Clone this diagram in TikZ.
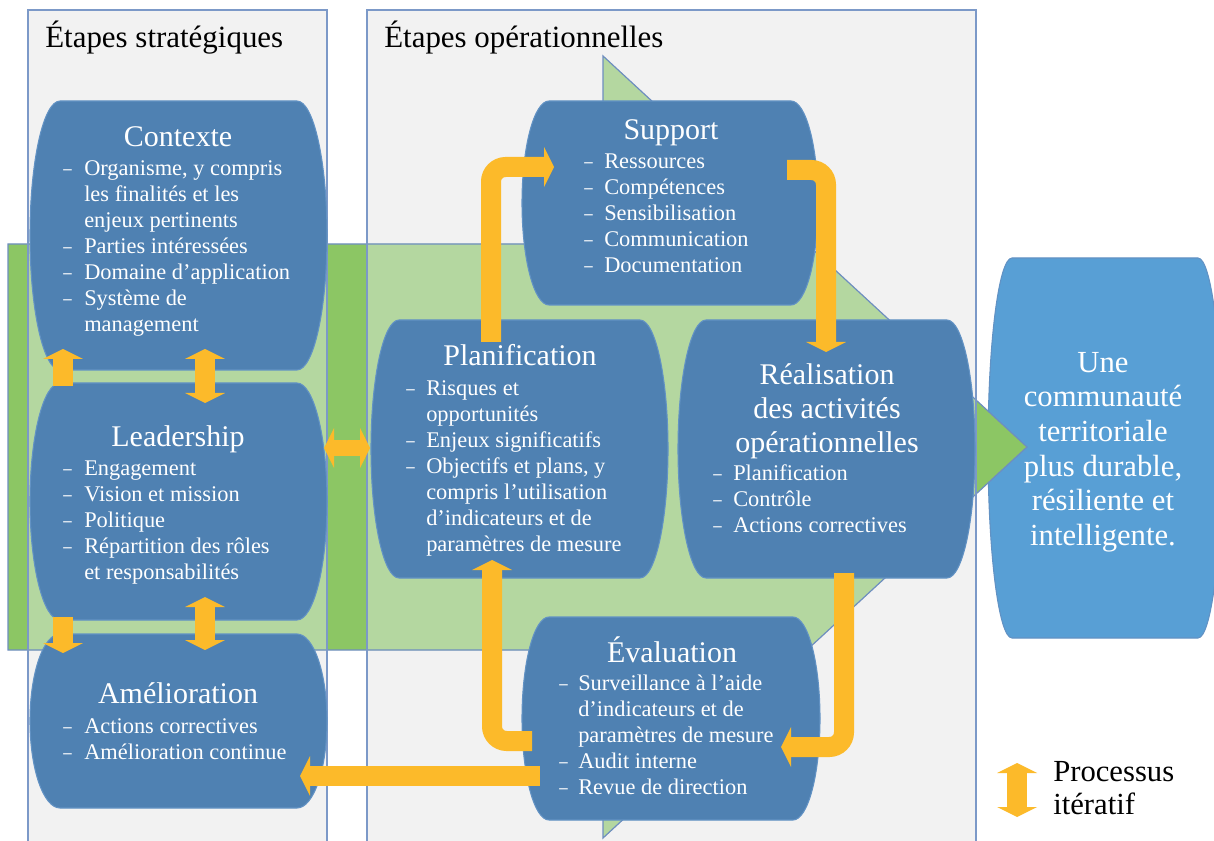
\documentclass[tikz,border=0pt]{standalone}
\usepackage{fontspec}
\setmainfont{Liberation Serif}
\definecolor{boxblue}{RGB}{79,129,178}
\definecolor{boxline}{RGB}{98,146,196}
\definecolor{ucblue}{RGB}{88,159,213}
\definecolor{panelgray}{RGB}{242,242,242}
\definecolor{panelline}{RGB}{124,153,200}
\definecolor{dgreen}{RGB}{140,198,100}
\definecolor{lgreen}{RGB}{180,215,160}
\definecolor{gline}{RGB}{110,142,192}
\definecolor{orangeC}{RGB}{252,186,42}
\newlength\bind
\newcommand\bi[1]{\strut\makebox[\bind][l]{\scalebox{0.75}[1]{–}}#1}
\newcommand\bc[1]{\strut\hspace*{\bind}#1}
\newcommand\bodyfont{\fontsize{16.8}{19.5}\selectfont}
\newcommand\titlefont{\fontsize{22.5}{27}\selectfont}
\newcommand\paneltitlefont{\fontsize{23.2}{27}\selectfont}
\newcommand\barrel[5]{({#1+#5},#2) -- ({#3-#5},#2) .. controls ({#3-0.4477*#5},#2) and (#3,{(#2+#4)/2-0.5523*(#4-#2)/2}) .. (#3,{(#2+#4)/2}) .. controls (#3,{(#2+#4)/2+0.5523*(#4-#2)/2}) and ({#3-0.4477*#5},#4) .. ({#3-#5},#4) -- ({#1+#5},#4) .. controls ({#1+0.4477*#5},#4) and (#1,{(#2+#4)/2+0.5523*(#4-#2)/2}) .. (#1,{(#2+#4)/2}) .. controls (#1,{(#2+#4)/2-0.5523*(#4-#2)/2}) and ({#1+0.4477*#5},#2) .. cycle}
\newcommand\garrow{(8,244) -- (603,244) -- (603,56) -- (1027,447) -- (603,838) -- (603,650) -- (8,650) -- cycle}
\newcommand\headU[2]{\fill[orangeC] (#1,#2) -- ({#1+20},{#2+10}) -- ({#1-20},{#2+10}) -- cycle;}
\newcommand\headD[2]{\fill[orangeC] (#1,#2) -- ({#1+20},{#2-10}) -- ({#1-20},{#2-10}) -- cycle;}
\newcommand\headL[2]{\fill[orangeC] (#1,#2) -- ({#1+10},{#2-20}) -- ({#1+10},{#2+20}) -- cycle;}
\newcommand\headR[2]{\fill[orangeC] (#1,#2) -- ({#1-10},{#2-20}) -- ({#1-10},{#2+20}) -- cycle;}
\begin{document}
\begin{tikzpicture}[x=0.75pt,y=-0.75pt,
  boxsty/.style={fill=boxblue,draw=boxline,line width=0.8pt},
  ucsty/.style={fill=ucblue,draw=boxline,line width=0.8pt},
  panel/.style={draw=panelline,line width=0.9pt},
  shaft/.style={draw=orangeC,line width=15pt,line cap=butt,rounded corners=11pt},
  thinshaft/.style={draw=orangeC,line width=12pt,line cap=butt},
  ttl/.style={anchor=base,inner sep=0pt,text=white,font=\titlefont},
  body/.style={anchor=north west,inner sep=0pt,align=left,text=white,font=\bodyfont},
  ptitle/.style={anchor=base west,inner sep=0pt,text=black,font=\paneltitlefont}]
\useasboundingbox (0,0) rectangle (1214,841);
\fill[white] (0,0) rectangle (1214,841);
% outcome box (below the green arrow)
\filldraw[ucsty] \barrel{988}{258}{1222}{638}{24};
% panels
\fill[panelgray] (28,10) rectangle (327,860);
\fill[panelgray] (367,10) rectangle (976,860);
% green arrow
\fill[dgreen] \garrow;
\begin{scope}
  \clip (28,10) rectangle (327,860) (367,10) rectangle (976,860);
  \fill[lgreen] \garrow;
\end{scope}
\draw[gline,line width=0.9pt] \garrow;
\draw[panel] (28,860) -- (28,10) -- (327,10) -- (327,860);
\draw[panel] (367,860) -- (367,10) -- (976,10) -- (976,860);
\node[ptitle] (stratT) at (45,48) {Étapes stratégiques};
\node[ptitle] (opT) at (384,48) {Étapes opérationnelles};
% boxes
\filldraw[boxsty] \barrel{30}{101}{327}{370}{30};
\filldraw[boxsty] \barrel{30}{383}{327}{620}{30};
\filldraw[boxsty] \barrel{30}{634}{327}{808}{30};
\filldraw[boxsty] \barrel{522}{101}{818}{305}{27};
\filldraw[boxsty] \barrel{371}{320}{668}{578}{28};
\filldraw[boxsty] \barrel{678}{320}{975}{578}{28};
\filldraw[boxsty] \barrel{522}{617}{820}{820}{27};
% texts
\node[ttl] (ctxT) at (178,147) {Contexte};
\setlength\bind{15.75pt}
\node[body] (ctxB) at (63,156.8) {\bi{Organisme, y compris}\\ \bc{les finalités et les}\\ \bc{enjeux pertinents}\\ \bi{Parties intéressées}\\ \bi{Domaine d’application}\\ \bi{Système de}\\ \bc{management}};
\node[ttl] (leaT) at (178,447) {Leadership};
\node[body] (leaB) at (63,456.8) {\bi{Engagement}\\ \bi{Vision et mission}\\ \bi{Politique}\\ \bi{Répartition des rôles}\\ \bc{et responsabilités}};
\node[ttl] (ameT) at (178,703) {Amélioration};
\node[body] (ameB) at (63,714.8) {\bi{Actions correctives}\\ \bi{Amélioration continue}};
\node[ttl] (supT) at (671,140) {Support};
\setlength\bind{15pt}
\node[body] (supB) at (584,149.8) {\bi{Ressources}\\ \bi{Compétences}\\ \bi{Sensibilisation}\\ \bi{Communication}\\ \bi{Documentation}};
\node[ttl] (plaT) at (520,366) {Planification};
\node[body] (plaB) at (406,376.8) {\bi{Risques et}\\ \bc{opportunités}\\ \bi{Enjeux significatifs}\\ \bi{Objectifs et plans, y}\\ \bc{compris l’utilisation}\\ \bc{d’indicateurs et de}\\ \bc{paramètres de mesure}};
\node[anchor=north,inner sep=0pt,align=center,text=white,font=\fontsize{22.5}{25.5}\selectfont] (reaT) at (827,360.2) {\strut Réalisation\\ \strut des activités\\ \strut opérationnelles};
\node[body] (reaB) at (713,461.8) {\bi{Planification}\\ \bi{Contrôle}\\ \bi{Actions correctives}};
\node[ttl] (evaT) at (672,662) {Évaluation};
\setlength\bind{14.25pt}
\node[body] (evaB) at (559,671.8) {\bi{Surveillance à l’aide}\\ \bc{d’indicateurs et de}\\ \bc{paramètres de mesure}\\ \bi{Audit interne}\\ \bi{Revue de direction}};
\node[anchor=north,inner sep=0pt,align=center,text=white,font=\fontsize{23}{26}\selectfont] (uc) at (1103,347.7) {\strut Une\\ \strut communauté\\ \strut territoriale\\ \strut plus durable,\\ \strut résiliente et\\ \strut intelligente.};
\node[anchor=north west,inner sep=0pt,align=left,text=black,font=\fontsize{23}{24.75}\selectfont] (legend) at (1053,757.9) {\strut Processus\\ \strut itératif};
% orange connectors
\coordinate (a1s) at (63,386); \coordinate (a1e) at (63,359);
\draw[shaft] (a1s) -- (a1e); \headU{63}{349}
\coordinate (a2s) at (63,617); \coordinate (a2e) at (63,643);
\draw[shaft] (a2s) -- (a2e); \headD{63}{653}
\coordinate (a3s) at (205,359); \coordinate (a3e) at (205,393);
\draw[shaft] (a3s) -- (a3e); \headU{205}{349} \headD{205}{403}
\coordinate (a4s) at (205,607); \coordinate (a4e) at (205,640);
\draw[shaft] (a4s) -- (a4e); \headU{205}{597} \headD{205}{650}
\coordinate (a5s) at (333,448); \coordinate (a5e) at (361,448);
\draw[thinshaft] (a5s) -- (a5e); \headL{324}{448} \headR{370}{448}
\coordinate (a6s) at (491,342); \coordinate (a6m) at (491,167); \coordinate (a6e) at (544,167);
\draw[shaft] (a6s) -- (a6m) -- (a6e); \headR{554}{167}
\coordinate (a7s) at (787,170); \coordinate (a7m) at (826,170); \coordinate (a7e) at (826,342);
\draw[shaft] (a7s) -- (a7m) -- (a7e); \headD{826}{352}
\coordinate (a8s) at (844,573); \coordinate (a8m) at (844,747); \coordinate (a8e) at (791,747);
\draw[shaft] (a8s) -- (a8m) -- (a8e); \headL{781}{747}
\coordinate (a9s) at (532,741); \coordinate (a9m) at (492,741); \coordinate (a9e) at (492,570);
\draw[shaft] (a9s) -- (a9m) -- (a9e); \headU{492}{560}
\coordinate (a10s) at (540,776); \coordinate (a10e) at (310,776);
\draw[shaft] (a10s) -- (a10e); \headL{300}{776}
\coordinate (lgs) at (1017,773); \coordinate (lge) at (1017,807);
\draw[shaft] (lgs) -- (lge); \headU{1017}{763} \headD{1017}{817}
\end{tikzpicture}
\end{document}
